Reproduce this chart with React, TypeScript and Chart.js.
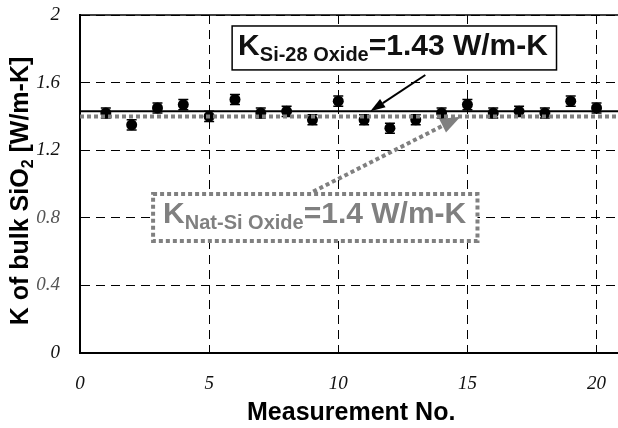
import React, { useEffect, useRef } from 'react';
import { Chart, registerables } from 'chart.js';

Chart.register(...registerables);

// ---- data ----
const measurementNo = [1, 2, 3, 4, 5, 6, 7, 8, 9, 10, 11, 12, 13, 14, 15, 16, 17, 18, 19, 20];
const kValues = [1.42, 1.35, 1.45, 1.47, 1.40, 1.50, 1.42, 1.43, 1.38, 1.49, 1.38, 1.33, 1.38, 1.42, 1.47, 1.42, 1.43, 1.42, 1.49, 1.45];
const kErrors = [0.03, 0.03, 0.03, 0.03, 0.03, 0.03, 0.03, 0.03, 0.03, 0.03, 0.03, 0.03, 0.03, 0.03, 0.03, 0.03, 0.03, 0.03, 0.03, 0.03];
const xTicks = [0, 5, 10, 15, 20];
const yTicks = [0, 0.4, 0.8, 1.2, 1.6, 2];
const kSi28Oxide = 1.43;
const kNatSiOxide = 1.4;
const xRange = [0, 20.85];
const yRange = [0, 2];

const SANS = '"Liberation Sans", Arial, Helvetica, sans-serif';
const SERIF = '"Liberation Serif", "Times New Roman", serif';
const GREY = '#808080';
const CANVAS_W = 624;
const CANVAS_H = 428;

function drawSubText(
  ctx: CanvasRenderingContext2D,
  x: number,
  y: number,
  parts: { t: string; sub?: boolean }[],
  big: number,
  small: number,
  subShift: number,
  color: string
) {
  ctx.fillStyle = color;
  ctx.textBaseline = 'alphabetic';
  ctx.textAlign = 'left';
  let cx = x;
  for (const p of parts) {
    ctx.font = `bold ${p.sub ? small : big}px ${SANS}`;
    ctx.fillText(p.t, cx, p.sub ? y + subShift : y);
    cx += ctx.measureText(p.t).width;
  }
}

function measureParts(ctx: CanvasRenderingContext2D, parts: { t: string; sub?: boolean }[], big: number, small: number) {
  let w = 0;
  for (const p of parts) {
    ctx.font = `bold ${p.sub ? small : big}px ${SANS}`;
    w += ctx.measureText(p.t).width;
  }
  return w;
}

function arrow(
  ctx: CanvasRenderingContext2D,
  x1: number, y1: number, x2: number, y2: number,
  color: string, width: number, dash: number[], headLen: number, headW: number
) {
  const ang = Math.atan2(y2 - y1, x2 - x1);
  const bx = x2 - headLen * Math.cos(ang);
  const by = y2 - headLen * Math.sin(ang);
  ctx.save();
  ctx.strokeStyle = color;
  ctx.lineWidth = width;
  ctx.lineCap = 'butt';
  ctx.setLineDash(dash);
  ctx.beginPath();
  ctx.moveTo(x1, y1);
  ctx.lineTo(bx, by);
  ctx.stroke();
  ctx.setLineDash([]);
  ctx.fillStyle = color;
  const px = -Math.sin(ang), py = Math.cos(ang);
  ctx.beginPath();
  ctx.moveTo(x2, y2);
  ctx.lineTo(bx + px * headW / 2, by + py * headW / 2);
  ctx.lineTo(bx - px * headW / 2, by - py * headW / 2);
  ctx.closePath();
  ctx.fill();
  ctx.restore();
}

const errorBarPlugin = {
  id: 'errorBars',
  beforeDatasetsDraw(chart: any) {
    const { ctx, scales: { x, y } } = chart;
    ctx.save();
    ctx.strokeStyle = '#000';
    ctx.lineWidth = 1.5;
    ctx.setLineDash([]);
    measurementNo.forEach((m, i) => {
      const px = x.getPixelForValue(m);
      const top = y.getPixelForValue(kValues[i] + kErrors[i]);
      const bot = y.getPixelForValue(kValues[i] - kErrors[i]);
      ctx.beginPath();
      ctx.moveTo(px, top); ctx.lineTo(px, bot);
      ctx.moveTo(px - 5, top); ctx.lineTo(px + 5, top);
      ctx.moveTo(px - 5, bot); ctx.lineTo(px + 5, bot);
      ctx.stroke();
    });
    ctx.restore();
  },
};

const annotationPlugin = {
  id: 'annotations',
  afterDraw(chart: any) {
    const { ctx, chartArea: a, scales: { x, y } } = chart;
    ctx.save();
    // solid top frame line
    ctx.strokeStyle = '#000';
    ctx.lineWidth = 1.5;
    ctx.setLineDash([]);
    ctx.beginPath();
    ctx.moveTo(a.left, a.top);
    ctx.lineTo(a.right, a.top);
    ctx.stroke();

    // box 1 (Si-28)
    const b1l = x.getPixelForValue(5.89), b1r = x.getPixelForValue(18.45);
    const b1t = y.getPixelForValue(1.935), b1b = y.getPixelForValue(1.675);
    ctx.fillStyle = '#fff';
    ctx.fillRect(b1l, b1t, b1r - b1l, b1b - b1t);
    ctx.strokeStyle = '#000';
    ctx.lineWidth = 1.5;
    ctx.strokeRect(b1l, b1t, b1r - b1l, b1b - b1t);
    drawSubText(ctx, b1l + 6, b1t + 29,
      [{ t: 'K' }, { t: 'Si-28 Oxide', sub: true }, { t: '=1.43 W/m-K' }], 30, 20, 6.5, '#111');

    // box 2 (Nat-Si)
    const b2l = x.getPixelForValue(2.83), b2r = x.getPixelForValue(15.39);
    const b2t = y.getPixelForValue(0.941), b2b = y.getPixelForValue(0.663);
    ctx.fillStyle = '#fff';
    ctx.fillRect(b2l, b2t, b2r - b2l, b2b - b2t);
    ctx.strokeStyle = GREY;
    ctx.lineWidth = 4;
    ctx.setLineDash([4, 3]);
    ctx.strokeRect(b2l, b2t, b2r - b2l, b2b - b2t);
    ctx.setLineDash([]);
    drawSubText(ctx, b2l + 10, b2t + 29,
      [{ t: 'K' }, { t: 'Nat-Si Oxide', sub: true }, { t: '=1.4 W/m-K' }], 30, 20, 6.5, GREY);

    // arrows
    arrow(ctx, x.getPixelForValue(13.37), y.getPixelForValue(1.645),
      x.getPixelForValue(11.24), y.getPixelForValue(kSi28Oxide), '#000', 2, [], 15, 10);
    arrow(ctx, x.getPixelForValue(9.03), y.getPixelForValue(0.955),
      x.getPixelForValue(14.73), y.getPixelForValue(1.398), GREY, 4, [4, 3], 20, 15);

    // y-axis title with subscript
    const yParts = [{ t: 'K of bulk SiO' }, { t: '2', sub: true }, { t: ' [W/m-K]' }];
    const yw = measureParts(ctx, yParts, 25, 16);
    ctx.save();
    ctx.translate(28, 191);
    ctx.rotate(-Math.PI / 2);
    drawSubText(ctx, -yw / 2, 0, yParts, 25, 16, 5, '#000');
    ctx.restore();

    // x-axis title
    ctx.font = `bold 25px ${SANS}`;
    ctx.fillStyle = '#000';
    ctx.textAlign = 'center';
    ctx.textBaseline = 'alphabetic';
    ctx.fillText('Measurement No.', x.getPixelForValue(10.5), 420);
    ctx.restore();
  },
};

export default function App() {
  const ref = useRef<HTMLCanvasElement | null>(null);

  useEffect(() => {
    document.documentElement.style.overflow = 'hidden';
    document.body.style.margin = '0';
    document.body.style.overflow = 'hidden';
    const canvas = ref.current!;
    const chart = new Chart(canvas, {
      type: 'scatter',
      data: {
        datasets: [
          {
            label: 'Nat-Si oxide',
            data: [{ x: xRange[0], y: kNatSiOxide }, { x: xRange[1], y: kNatSiOxide }],
            showLine: true,
            borderColor: GREY,
            borderWidth: 4,
            borderDash: [4, 3],
            borderCapStyle: 'butt',
            pointRadius: 0,
            order: 0,
          },
          {
            label: 'K',
            data: measurementNo.map((m, i) => ({ x: m, y: kValues[i] })),
            showLine: false,
            pointRadius: 5.5,
            pointBackgroundColor: '#000',
            pointBorderColor: '#000',
            pointBorderWidth: 0,
            order: 1,
          },
          {
            label: 'Si-28 oxide',
            data: [{ x: xRange[0], y: kSi28Oxide }, { x: xRange[1], y: kSi28Oxide }],
            showLine: true,
            borderColor: '#000',
            borderWidth: 2,
            pointRadius: 0,
            order: 2,
          },
        ],
      },
      options: {
        animation: false,
        responsive: false,
        devicePixelRatio: 1,
        layout: { padding: { top: 15, left: 0, right: 0, bottom: 0 } },
        plugins: { legend: { display: false }, tooltip: { enabled: false } },
        scales: {
          x: {
            type: 'linear',
            min: xRange[0],
            max: xRange[1],
            afterFit: (s: any) => { s.height = 75; s.paddingLeft = 0; s.paddingRight = 0; },
            afterBuildTicks: (s: any) => { s.ticks = xTicks.map((v) => ({ value: v })); },
            ticks: {
              padding: 20,
              color: '#111',
              font: { family: SERIF, size: 19, style: 'italic' },
              callback: (v: any) => String(v),
            },
            grid: { color: '#000', lineWidth: 1, drawTicks: false },
            border: { display: true, color: '#000', width: 2, dash: [9, 6] },
          },
          y: {
            type: 'linear',
            min: yRange[0],
            max: yRange[1],
            afterFit: (s: any) => { s.width = 80; s.paddingTop = 0; s.paddingBottom = 0; },
            afterBuildTicks: (s: any) => { s.ticks = yTicks.map((v) => ({ value: v })); },
            ticks: {
              padding: 20,
              color: (c: any) => (c.tick && (c.tick.value === 0.8 || c.tick.value === 0.4) ? '#555' : '#111'),
              font: { family: SERIF, size: 19, style: 'italic' },
              callback: (v: any) => String(Math.round(v * 10) / 10),
            },
            grid: { color: '#000', lineWidth: 1, drawTicks: false },
            border: { display: true, color: '#000', width: 2, dash: [9, 6] },
          },
        },
      },
      plugins: [errorBarPlugin, annotationPlugin],
    } as any);
    return () => chart.destroy();
  }, []);

  return (
    <div style={{ width: 618, height: CANVAS_H, overflow: 'hidden', background: '#fff' }}>
      <canvas ref={ref} width={CANVAS_W} height={CANVAS_H} style={{ display: 'block', width: CANVAS_W, height: CANVAS_H }} />
    </div>
  );
}
